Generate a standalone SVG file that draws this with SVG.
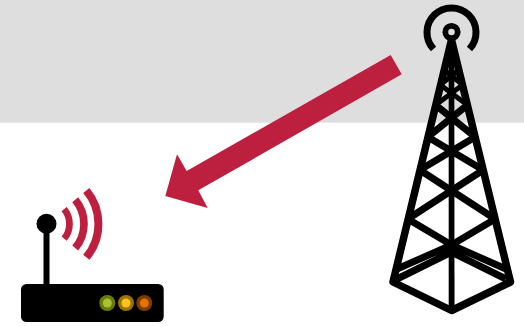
<svg xmlns="http://www.w3.org/2000/svg" width="524" height="326" viewBox="0 0 524 326">
<style>
.t{fill:none;stroke:#000;stroke-width:7.5;stroke-linejoin:round}
.b{fill:none;stroke:#000;stroke-width:7}
.u{fill:none;stroke:#000;stroke-width:5}
.w{fill:none;stroke:#bd1f3f}
</style>
<rect id="sky" x="0" y="0" width="524" height="122.7" fill="#dedede"/>
<g id="tower">
<path class="b" d="M433.5 49A24.5 24.5 0 1 1 469.5 49"/>
<circle cx="451.5" cy="32" r="6.2" fill="none" stroke="#000" stroke-width="5.8"/>
<path class="t" d="M451.5 40L393 282L451.6 310.5L510.5 282Z"/>
<path d="M451.5 36L443 64H460Z"/>
<path d="M448.7 40H454.3L454.5 311H448.7Z"/>
<path class="u" d="M444.2 70L463 85M458.8 70L440 85M440.5 85L467.4 105M462.5 85L435.6 105"/>
<path class="b" d="M435.6 105L475.2 137M467.4 105L427.8 137M427.8 137L483.2 170M475.2 137L419.8 170M419.8 170L495.2 219M483.2 170L407.8 219M407.8 219L451.5 245L506 269M495.2 219L451.5 245L397 269M397 279L451.5 252L506 279"/>
</g>
<g id="router">
<rect x="21" y="284" width="142.7" height="38" rx="5.5"/>
<rect x="43.5" y="224" width="6" height="62"/>
<circle cx="46.5" cy="223.7" r="10"/>
<circle cx="107.3" cy="303" r="8" fill="#6d7a00"/>
<circle cx="107.3" cy="303" r="4.5" fill="#a6c135"/>
<circle cx="126" cy="303" r="8" fill="#9a7400"/>
<circle cx="126" cy="303" r="4.5" fill="#fcc323"/>
<circle cx="144.3" cy="303" r="8" fill="#7a3c00"/>
<circle cx="144.3" cy="303" r="4.5" fill="#e87200"/>
<path class="w" stroke-width="6.7" d="M64.1 209.1A23 23 0 0 1 64.1 238.7"/>
<path class="w" stroke-width="7.7" d="M75.2 199.8A37.5 37.5 0 0 1 75.2 248"/>
<path class="w" stroke-width="8" d="M86.3 190.5A52 52 0 0 1 86.3 257.3"/>
</g>
<g id="connectors">
<polygon fill="#bd1f3f" points="390.7,55 401.7,74.3 198.3,190.3 207.7,208 165.3,196 177,154.3 186.7,171"/>
</g>
</svg>
